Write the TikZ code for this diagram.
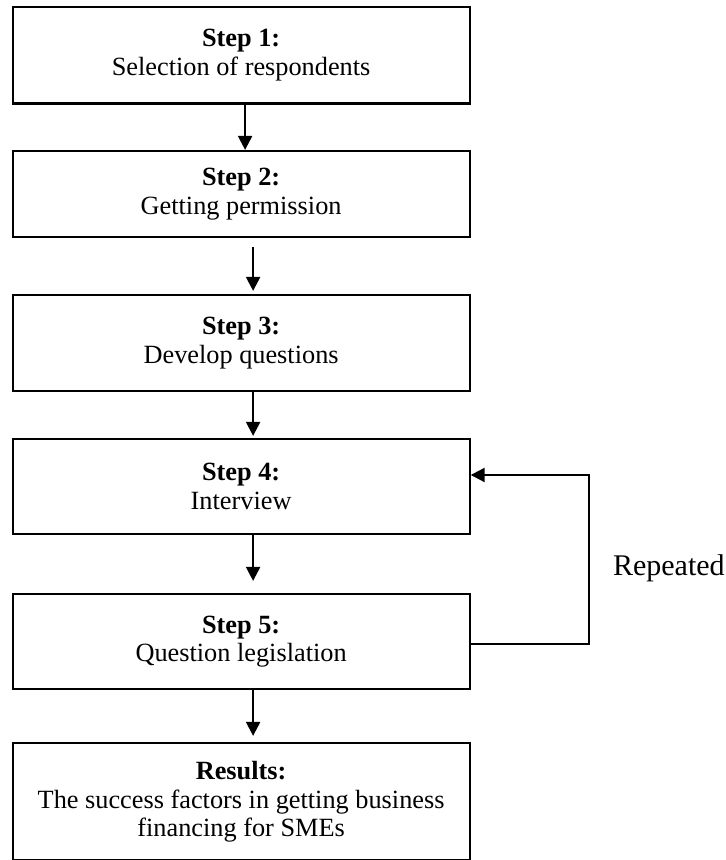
\documentclass[tikz,border=0pt]{standalone}
\usepackage{fontspec}
\setmainfont{Liberation Serif}
\usepackage{tikz}
\usetikzlibrary{arrows.meta}

\begin{document}
\begin{tikzpicture}[x=0.5pt,y=0.5pt,
    stepbox/.style={draw,line width=1.1pt,minimum width=228.5pt,align=center,
      font=\fontsize{13.15}{14.25}\selectfont},
    flow/.style={line width=1.1pt,-{Triangle[length=7pt,width=7pt]}}]
      \useasboundingbox (0,0) rectangle (726,860);
      \node[stepbox,minimum height=48.25pt] (s1) at (241.1,804.75) {\textbf{Step 1:}\\Selection of respondents};
      \node[stepbox,minimum height=43pt] (s2) at (241.1,666) {\textbf{Step 2:}\\Getting permission};
      \node[stepbox,minimum height=48pt] (s3) at (241.1,517) {\textbf{Step 3:}\\Develop questions};
      \node[stepbox,minimum height=47.5pt] (s4) at (241.1,373.5) {\textbf{Step 4:}\\Interview};
      \node[stepbox,minimum height=47.5pt] (s5) at (241.1,218.5) {\textbf{Step 5:}\\Question legislation};
      \node[stepbox,minimum height=58.75pt] (res) at (241.1,58.25) {\textbf{Results:}\\The success factors in getting business\\financing for SMEs};
      \draw[flow] ([xshift=2pt]s1.south) -- ([xshift=2pt]s2.north);
      \draw[flow,shorten <=4.5pt,shorten >=1.5pt] ([xshift=6pt]s2.south) -- ([xshift=6pt]s3.north);
      \draw[flow,shorten >=1pt] ([xshift=6pt]s3.south) -- ([xshift=6pt]s4.north);
      \draw[flow,shorten >=6pt] ([xshift=6pt]s4.south) -- ([xshift=6pt]s5.north);
      \draw[flow,shorten >=3pt] ([xshift=6pt]s5.south) -- ([xshift=6pt]res.north);
      % loop back from step 5 to step 4
      \coordinate (back) at (589,385);
      \draw[flow] ([yshift=-1.25pt]s5.east) -| (back) -- ([yshift=5.75pt]s4.east);
      \node[anchor=base west,font=\fontsize{15}{18}\selectfont] (rep) at (606,284) {Repeated};
\end{tikzpicture}
\end{document}
